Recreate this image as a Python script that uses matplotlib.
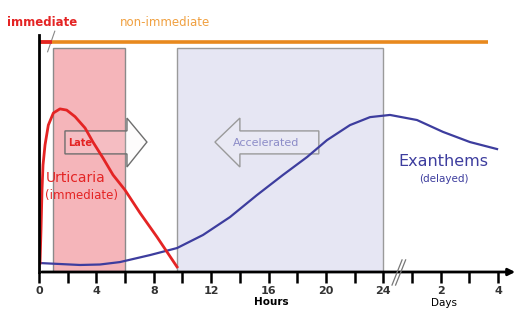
import matplotlib.pyplot as plt
from matplotlib.patches import Rectangle, Polygon

# Curvas (x en horas, escala de dias despues de 24 h; y relativo 0-100)
horas_urticaria = [0.07, 0.14, 0.21, 0.28, 0.42, 0.65, 1.0, 1.46, 1.93, 2.51, 3.21,
                   3.76, 4.46, 5.16, 5.99, 7.04, 8.22, 9.62]
nivel_urticaria = [3.7, 17.4, 33.9, 44.2, 52.5, 60.7, 65.7, 67.4, 66.9, 64.2, 59.5,
                   53.7, 47.1, 40.1, 33.9, 24.4, 14.5, 2.1]

horas_exantema = [0.07, 2.86, 4.25, 5.64, 7.74, 9.62, 11.43, 13.31, 15.19, 17.0, 18.68,
                  20.07, 21.67, 23.07, 24.46, 26.34, 28.15, 30.03, 31.92]
nivel_exantema = [3.7, 2.9, 3.1, 4.1, 7.0, 9.9, 15.3, 22.7, 31.8, 40.1, 47.5,
                  54.5, 60.7, 64.0, 64.9, 62.8, 57.9, 53.7, 50.8]

ticks_pos = [0, 2, 4, 6, 8, 10, 12, 14, 16, 18, 20, 22, 24, 26, 28, 30, 32]
ticks_lbl = ['0', '', '4', '', '8', '', '12', '', '16', '', '20', '', '24', '', '2', '', '4']

ventana_late = (1.0, 6.0)
ventana_acel = (9.65, 24.0)

rojo = '#e42424'
azul = '#3d3d9e'
naranja = '#e8891e'

fig = plt.figure(figsize=(5.2, 3.09), dpi=100)
ax = fig.add_axes([39 / 520, 37 / 309, 479 / 520, 242 / 309])
ax.set_xlim(0, 33.38)
ax.set_ylim(0, 100)
for s in ax.spines.values():
    s.set_visible(False)
ax.set_yticks([])

# zonas sombreadas
ax.add_patch(Rectangle((ventana_late[0], 0), ventana_late[1] - ventana_late[0], 92.6,
                       facecolor='#f5b5ba', edgecolor='#8a8a8a', lw=1, zorder=1))
ax.add_patch(Rectangle((ventana_acel[0], 0), ventana_acel[1] - ventana_acel[0], 92.6,
                       facecolor='#e6e6f3', edgecolor='#9a9a9a', lw=1, zorder=1))

# flechas
late = [(1.81, 48.8), (6.13, 48.8), (6.13, 43.4), (7.52, 53.7), (6.13, 63.6),
        (6.13, 58.3), (1.81, 58.3)]
ax.add_patch(Polygon(late, closed=True, facecolor=(0.96, 0.94, 0.94, 0.15),
                     edgecolor='#6e6e6e', lw=1, zorder=3))
acel = [(19.5, 48.8), (14.0, 48.8), (14.0, 43.4), (12.26, 53.7), (14.0, 63.6),
        (14.0, 58.3), (19.5, 58.3)]
ax.add_patch(Polygon(acel, closed=True, facecolor='#e9e9f4',
                     edgecolor='#9a9a9a', lw=1, zorder=3))

ax.text(2.05, 53.5, 'Late', color=rojo, fontsize=7, fontweight='bold', va='center', zorder=7)
ax.text(15.8, 53.5, 'Accelerated', color='#8c8cc8', fontsize=8, va='center', ha='center', zorder=4)

# curvas
ax.plot(horas_exantema, nivel_exantema, color=azul, lw=1.6, zorder=5)
ax.plot(horas_urticaria, nivel_urticaria, color=rojo, lw=2, zorder=6)

ax.text(0.45, 39, 'Urticaria', color=rojo, fontsize=10, va='center', zorder=7)
ax.text(0.4, 31.5, '(immediate)', color=rojo, fontsize=8.5, va='center', zorder=7)
ax.text(28.2, 45.5, 'Exanthems', color=azul, fontsize=11.5, ha='center', va='center')
ax.text(28.2, 38.5, '(delayed)', color=azul, fontsize=7.5, ha='center', va='center')

# barra superior
ax.plot([0, 31.3], [95, 95], color=naranja, lw=2.6, solid_capstyle='butt', zorder=2)
ax.plot([0, 0.9], [95, 95], color=rojo, lw=2.6, solid_capstyle='butt', zorder=3)
ax.plot([0.6, 1.1], [91, 99.5], color='#888888', lw=0.8, clip_on=False)
ax.text(0.2, 103.3, 'immediate', color=rojo, fontsize=8.5, fontweight='bold',
        ha='center', va='center')
ax.text(8.8, 103.3, 'non-immediate', color='#f0a040', fontsize=8.5,
        ha='center', va='center')

# ejes
ax.plot([0, 0], [0, 97.9], color='black', lw=2, clip_on=False, zorder=8)
ax.annotate('', xy=(33.38, 0), xytext=(0, 0),
            arrowprops=dict(arrowstyle='-|>', color='black', lw=2, mutation_scale=10),
            annotation_clip=False, zorder=8)
ax.set_xticks(ticks_pos)
ax.set_xticklabels(ticks_lbl, fontsize=8, fontweight='bold', color='#333333')
ax.tick_params(axis='x', direction='out', length=8, width=1.8, pad=2)
ax.text(16.2, -12.4, 'Hours', fontsize=7.5, fontweight='bold', ha='center', va='center')
ax.text(28.2, -12.9, 'Days', fontsize=7.5, ha='center', va='center')

# corte del eje
ax.plot([24.6, 25.3], [-5.4, 5], color='#777777', lw=0.9, clip_on=False, zorder=9)
ax.plot([24.85, 25.55], [-5.4, 5], color='#777777', lw=0.9, clip_on=False, zorder=9)

fig.savefig('out.png', dpi=100)
